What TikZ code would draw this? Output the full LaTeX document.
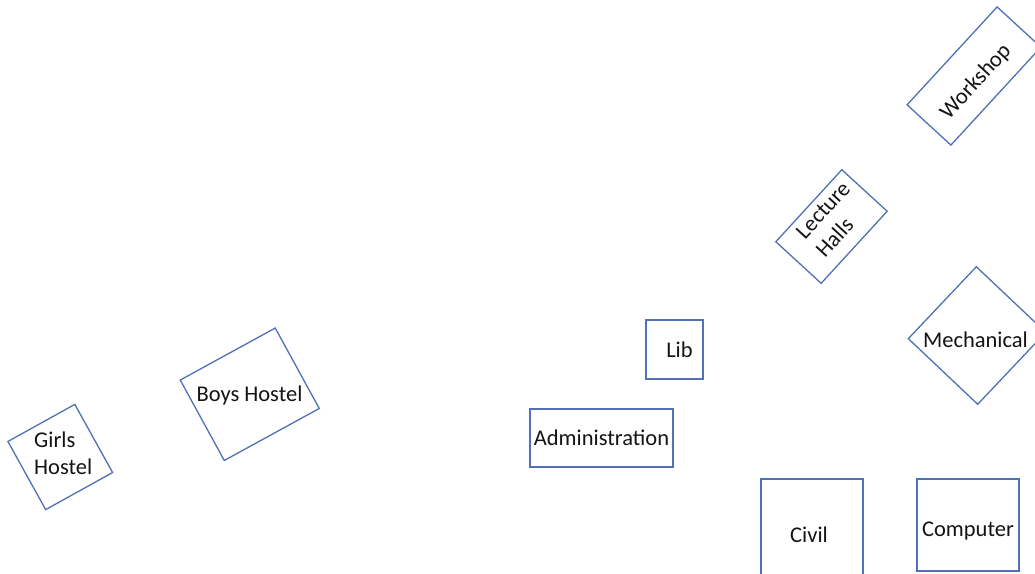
\documentclass[tikz,border=0pt]{standalone}
\usepackage{fontspec}
\setmainfont{Carlito}
\definecolor{edge}{RGB}{80,112,184}
\definecolor{ink}{RGB}{20,20,20}
\begin{document}
\begin{tikzpicture}[x=1pt,y=-1pt,
  box/.style={draw=edge,line width=1.3pt,fill=white,inner sep=0pt,outer sep=0pt},
  lbl/.style={text=ink,inner sep=0pt,font=\fontsize{22.5}{27}\selectfont}]
\useasboundingbox (0,0) rectangle (1035,573);
% shapes
\node[box,minimum width=76.5pt,minimum height=77.9pt,rotate=29] (girls) at (60.25,457) {};
\node[box,minimum width=108.3pt,minimum height=91.7pt,rotate=28.7] (boys) at (249.75,394.25) {};
\node[box,minimum width=57pt,minimum height=59pt] (lib) at (674.5,349.5) {};
\node[box,minimum width=143pt,minimum height=58pt] (admin) at (601.5,438) {};
\node[box,minimum width=102pt,minimum height=122pt] (civil) at (812,540) {};
\node[box,minimum width=102pt,minimum height=92pt] (comp) at (968,525) {};
\node[box,minimum width=97.7pt,minimum height=61.5pt,rotate=47.5] (lect) at (831.5,226.5) {};
\node[box,minimum width=133pt,minimum height=59.5pt,rotate=47.4] (work) at (974,76) {};
\node[box,minimum width=99pt,minimum height=95.5pt,rotate=46.6] (mech) at (977,335.5) {};
% texts
\node[lbl,align=left,anchor=base west] (girlsT) at (34,474) {Girls\\Hostel};
\node[lbl,anchor=base] (boysT) at (249.5,401) {Boys Hostel};
\node[lbl,anchor=base] (libT) at (679.5,357) {Lib};
\node[lbl,anchor=base] (adminT) at (601.5,445) {Administration};
\node[lbl,anchor=base] (civilT) at (809,542) {Civil};
\node[lbl,anchor=base] (compT) at (968,536) {Computer};
\node[lbl,anchor=base] (mechT) at (975.5,347) {Mechanical};
\node[lbl,align=left,rotate=47.5,anchor=base west] (lectT) at (825,258.5) {Lecture\\Halls};
\node[lbl,rotate=47.4] (workT) at (976,82) {Workshop};
\end{tikzpicture}
\end{document}
